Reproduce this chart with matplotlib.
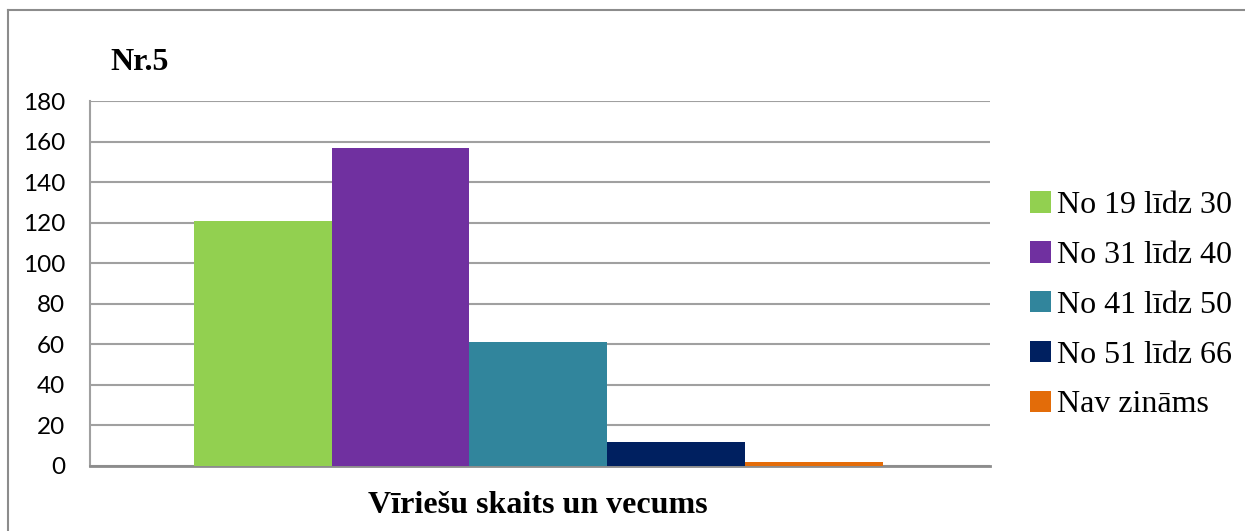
import matplotlib
matplotlib.use("Agg")
import matplotlib.pyplot as plt
from matplotlib.lines import Line2D

series = ["No 19 līdz 30", "No 31 līdz 40", "No 41 līdz 50", "No 51 līdz 66", "Nav zināms"]
values = [121, 157, 61, 12, 2]
colors = ["#92D050", "#7030A0", "#31859C", "#002060", "#E36C09"]
yticks = [0, 20, 40, 60, 80, 100, 120, 140, 160, 180]

fig = plt.figure(figsize=(12.45, 5.31), dpi=100)
ax = fig.add_axes([90 / 1245, 65 / 531, 900 / 1245, 365 / 531])

offsets = [-2, -1, 0, 1, 2]
for off, val, col, lab in zip(offsets, values, colors, series):
    ax.bar(off, val, width=1.0, color=col, label=lab, zorder=3)

ax.set_ylim(0, 180)
ax.set_xlim(-3.255, 3.28)
ax.set_yticks(yticks)
ax.set_xticks([])
ax.yaxis.grid(True, color="#A0A0A0", linewidth=1.5, zorder=0)
ax.tick_params(axis="y", length=0, pad=18, labelsize=17.5)
for lbl in ax.get_yticklabels():
    lbl.set_family("Lato")

for s in ["top", "right"]:
    ax.spines[s].set_visible(False)
ax.spines["left"].set_color("#A0A0A0")
ax.spines["left"].set_linewidth(1.5)
ax.spines["bottom"].set_color("#8C8C8C")
ax.spines["bottom"].set_linewidth(2)

fig.text(110 / 1245, 1 - 70 / 531, "Nr.5", family="Liberation Serif",
         fontweight="bold", fontsize=23, ha="left", va="baseline")
fig.text(538 / 1245, 1 - 513 / 531, "Vīriešu skaits un vecums", family="Liberation Serif",
         fontweight="bold", fontsize=23, ha="center", va="baseline")

leg = ax.legend(loc="center left", bbox_to_anchor=(1.03, 0.44), frameon=False,
                prop={"family": "Liberation Serif", "size": 23},
                handlelength=0.65, handleheight=0.65, handletextpad=0.2,
                labelspacing=0.65, borderaxespad=0)

# outer chart border (top and left visible)
fig.add_artist(Line2D([8 / 1245, 8 / 1245], [0, 1 - 10 / 531], transform=fig.transFigure,
                      color="#8C8C8C", linewidth=1.5))
fig.add_artist(Line2D([8 / 1245, 1], [1 - 10 / 531, 1 - 10 / 531], transform=fig.transFigure,
                      color="#8C8C8C", linewidth=1.5))

fig.savefig("out.png", dpi=100)
